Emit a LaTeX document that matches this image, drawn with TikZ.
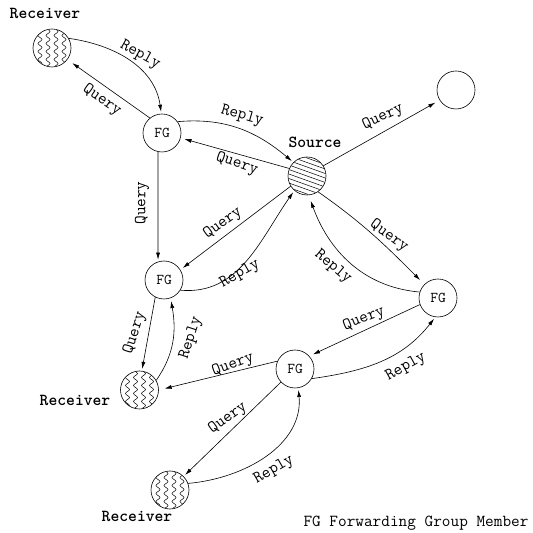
\documentclass[tikz,border=0pt]{standalone}
\usepackage{fontspec}
\usetikzlibrary{arrows.meta,decorations.pathmorphing}
\begin{document}
\begin{tikzpicture}[x=1pt,y=1pt,
  nd/.style={circle,draw,line width=0.6pt,minimum size=38pt,inner sep=0pt,font=\ttfamily\fontsize{15}{17}\selectfont},
  lbl/.style={inner sep=0pt,font=\ttfamily\fontsize{16.8}{18}\selectfont},
  bl/.style={inner sep=0pt,font=\ttfamily\fontsize{16.8}{18}\selectfont\bfseries},
  con/.style={line width=0.6pt,-{Latex[length=7pt,width=4pt]},shorten >=2pt},
]
\useasboundingbox (0,0) rectangle (533,533);
% nodes
\node[nd] (R1) at (52,485) {};
\node[nd] (FG1) at (162,400) {FG};
\node[nd] (S) at (307,357) {};
\node[nd] (E) at (456,443) {};
\node[nd] (FGR) at (438,235) {FG};
\node[nd] (FG2) at (164,253) {FG};
\node[nd] (R2) at (139.5,143) {};
\node[nd] (FG3) at (295,164) {FG};
\node[nd] (R3) at (170,43) {};
% fills
\foreach \n in {R1,R2,R3}{
  \begin{scope}
    \clip (\n) circle (18.6pt);
    \foreach \dx in {-12,-4,4,12}
      \draw[line width=0.5pt,decorate,decoration={snake,segment length=8pt,amplitude=2pt}]
        ([xshift=\dx pt,yshift=-22pt]\n.center) -- ++(0,44);
  \end{scope}
}
\begin{scope}
  \clip (S) circle (18.6pt);
  \foreach \k in {-6,...,6}
    \draw[line width=0.5pt] ([shift={(-28,\k*4.5+10)}]S.center) -- ++(56,-20);
\end{scope}
% texts
\node[bl] (tR1) at (45,520) {Receiver};
\node[bl] (tS) at (315,391) {Source};
\node[bl] (tR2) at (75,133) {Receiver};
\node[bl] (tR3) at (137,17) {Receiver};
\node[lbl] (leg) at (416,10) {FG Forwarding Group Member};
% connectors
\draw[con] (R1.30) to[out=-8,in=98] (FG1.92);
\draw[con,shorten >=6pt] (FG1.129) -- (R1.-37);
\draw[con] (FG1.36) to[out=5,in=140] (S.135);
\draw[con,shorten >=4pt] (S.157) -- (FG1.-15);
\draw[con] (FG1.-102) -- (FG2.108);
\draw[con,shorten >=3pt] (S.212) -- (FG2.32);
\draw[con] (FG2.-32) to[out=-5,in=235] (S.229);
\draw[con] (FG2.-117) -- (R2.83);
\draw[con,shorten >=3pt] (R2.30) to[out=55,in=-80] (FG2.-70);
\draw[con,shorten >=5pt] (S.32) -- (E.212);
\draw[con,shorten >=6pt] (S.-55) to[out=-35,in=135] (FGR.135);
\draw[con,shorten >=6pt] (FGR.162) to[out=175,in=-70] (S.-85);
\draw[con,shorten >=4pt] (FGR.200) -- (FG3.42);
\draw[con,shorten >=2pt] (FG3.-30) to[out=8,in=-128] (FGR.-98);
\draw[con,shorten >=6pt] (FG3.156) -- (R2.0);
\draw[con] (FG3.223) -- (R3.45);
\draw[con] (R3.20) to[out=5,in=-85] (FG3.-80);
% labels
\node[lbl,rotate=-29] (l1) at (140,478) {Reply};
\node[lbl,rotate=-35] (l2) at (102,433) {Query};
\node[lbl,rotate=-16] (l3) at (242,417) {Reply};
\node[lbl,rotate=-19] (l4) at (237,369) {Query};
\node[lbl,rotate=90] (l5) at (142,330) {Query};
\node[lbl,rotate=36] (l6) at (223,310) {Query};
\node[lbl,rotate=30] (l7) at (240,259) {Reply};
\node[lbl,rotate=72] (l8) at (135,200) {Query};
\node[lbl,rotate=72] (l9) at (191,195) {Reply};
\node[lbl,rotate=25] (l10) at (383,416) {Query};
\node[lbl,rotate=-36] (l11) at (389,297) {Query};
\node[lbl,rotate=-40] (l12) at (333,266) {Reply};
\node[lbl,rotate=22] (l13) at (364,214) {Query};
\node[lbl,rotate=29] (l14) at (406,166) {Reply};
\node[lbl,rotate=20] (l15) at (233,168) {Query};
\node[lbl,rotate=36] (l16) at (228,115) {Query};
\node[lbl,rotate=30] (l17) at (274,63) {Reply};
\end{tikzpicture}
\end{document}
